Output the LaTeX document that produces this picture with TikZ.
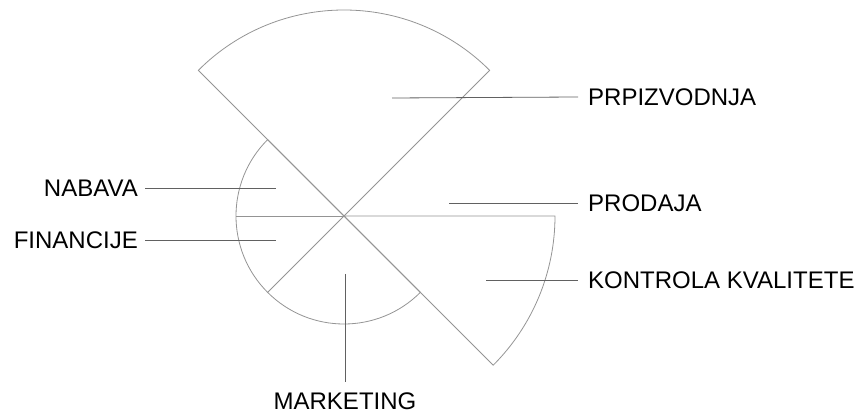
\documentclass[tikz,border=0pt]{standalone}
\usepackage{fontspec}
\setmainfont{Liberation Sans}
\begin{document}
\begin{tikzpicture}[
x=1pt,y=1pt,
sector/.style={%
draw=black!42,
line width=0.8pt,
line join=miter
},
lead/.style={%
draw=black!62,
line width=0.8pt
},
lbl/.style={%
inner sep=0pt,
font=\fontsize{24}{28}\selectfont
}
]
\useasboundingbox (-344,216) rectangle (520,-198);
%% Sectors
\draw[sector](0,0)--(45:206)arc(45:135:206)--cycle;
\draw[sector](0,0)--(0:211)arc(0:-45:211)--cycle;
\draw[sector](0,0)--(135:108)arc(135:315:108)--cycle;
\draw[sector](0,0)--(180:108);
\draw[sector](0,0)--(225:108);
%% Anchors inside the sectors
\coordinate(prpin)at(48,118);
\coordinate(proin)at(105,13);
\coordinate(kktin)at(142,-64);
\coordinate(nabin)at(-68,28);
\coordinate(finin)at(-68,-24);
\coordinate(marin)at(1,-58);
%% Labels
\node[lbl,anchor=west]at(244,119)(prp){PRPIZVODNJA};
\node[lbl,anchor=west]at(244,13)(pro){PRODAJA};
\node[lbl,anchor=west]at(244,-64)(kkt){KONTROLA KVALITETE};
\node[lbl,anchor=east]at(-206,28)(nab){NABAVA};
\node[lbl,anchor=east]at(-206,-24)(fin){FINANCIJE};
\node[lbl,anchor=north]at(1,-177)(mar){MARKETING};
%% Leader lines
\draw[lead](prpin)--([xshift=-10pt]prp.west);
\draw[lead](proin)--([xshift=-10pt]pro.west);
\draw[lead](kktin)--([xshift=-10pt]kkt.west);
\draw[lead](nabin)--([xshift=7pt]nab.east);
\draw[lead](finin)--([xshift=7pt]fin.east);
\draw[lead](marin)--([yshift=11pt]mar.north);
\end{tikzpicture}
\end{document}
